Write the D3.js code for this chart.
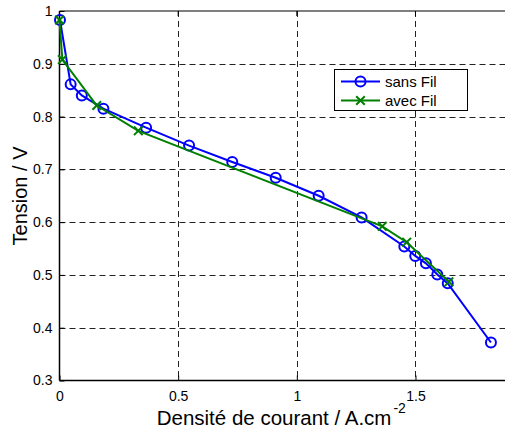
<!DOCTYPE html>
<html><head><meta charset="utf-8">
<script src="https://cdn.jsdelivr.net/npm/d3@7"></script>
<style>body{margin:0;background:#fff;overflow:hidden}svg{display:block;font-family:"Liberation Sans",Arial,sans-serif}</style>
</head><body>
<script>
const xTicks = [0, 0.5, 1, 1.5];
const xTickLabels = ["0", "0.5", "1", "1.5"];
const yTicks = [0.3, 0.4, 0.5, 0.6, 0.7, 0.8, 0.9, 1];
const yTickLabels = ["0.3", "0.4", "0.5", "0.6", "0.7", "0.8", "0.9", "1"];
const seriesNames = ["sans Fil", "avec Fil"];
const sansFilX = [0.002, 0.047, 0.094, 0.185, 0.365, 0.546, 0.728, 0.911, 1.092, 1.273, 1.453, 1.499, 1.544, 1.592, 1.636, 1.818];
const sansFilY = [0.983, 0.861, 0.840, 0.815, 0.779, 0.745, 0.714, 0.684, 0.650, 0.609, 0.554, 0.536, 0.522, 0.501, 0.484, 0.372];
const avecFilX = [0, 0.012, 0.157, 0.332, 1.360, 1.463, 1.641];
const avecFilY = [0.983, 0.908, 0.821, 0.773, 0.592, 0.562, 0.487];
const xLabel = "Densité de courant / A.cm";
const xLabelSup = "-2";
const yLabel = "Tension / V";

const W = 505, H = 431;
const L = 59.5, T = 11, B = 380.5, R = 510.4;
const svg = d3.select("body").append("svg").attr("width", W).attr("height", H);
const x = d3.scaleLinear().domain([0, 1.9]).range([L, R]);
const y = d3.scaleLinear().domain([0.3, 1]).range([B, T]);

// grid
const g = svg.append("g");
g.selectAll(".gx").data(xTicks.filter(d => d > 0)).enter().append("line")
  .attr("x1", d => Math.round(x(d)) + 0.5).attr("x2", d => Math.round(x(d)) + 0.5)
  .attr("y1", T).attr("y2", B)
  .attr("stroke", "#222").attr("stroke-width", 1).attr("stroke-dasharray", "6,4");
g.selectAll(".gy").data(yTicks.filter(d => d > 0.3 && d < 1)).enter().append("line")
  .attr("y1", d => Math.round(y(d)) + 0.5).attr("y2", d => Math.round(y(d)) + 0.5)
  .attr("x1", L).attr("x2", W)
  .attr("stroke", "#222").attr("stroke-width", 1).attr("stroke-dasharray", "6,4");

// axes lines
svg.append("line").attr("x1", L).attr("x2", L).attr("y1", T).attr("y2", B).attr("stroke", "#000").attr("stroke-width", 1.5);
svg.append("line").attr("x1", L).attr("x2", W).attr("y1", B).attr("y2", B).attr("stroke", "#000").attr("stroke-width", 1.5);
svg.append("line").attr("x1", L).attr("x2", W).attr("y1", T).attr("y2", T).attr("stroke", "#000").attr("stroke-width", 1.2);

// ticks (inside)
const xAxis = d3.axisBottom(x).tickValues(xTicks).tickSize(-5).tickPadding(11).tickFormat((d, i) => xTickLabels[i]);
const xa = svg.append("g").attr("transform", `translate(0,${B})`).call(xAxis);
const yAxis = d3.axisLeft(y).tickValues(yTicks).tickSize(-5).tickPadding(7).tickFormat((d, i) => yTickLabels[i]);
const ya = svg.append("g").attr("transform", `translate(${L},0)`).call(yAxis);
[xa, ya].forEach(a => {
  a.select(".domain").remove();
  a.selectAll("text").attr("font-size", 14).attr("fill", "#000").attr("font-family", '"Liberation Sans",Arial,sans-serif');
  a.selectAll("line").attr("stroke", "#000");
});
// top ticks
svg.selectAll(".tt").data(xTicks).enter().append("line")
  .attr("x1", d => x(d)).attr("x2", d => x(d)).attr("y1", T).attr("y2", T + 5).attr("stroke", "#000");

// series
const line = d3.line().x(d => x(d[0])).y(d => y(d[1]));
const sans = sansFilX.map((v, i) => [v, sansFilY[i]]);
const avec = avecFilX.map((v, i) => [v, avecFilY[i]]);
const blue = "#0000ff", green = "#008000";

svg.append("path").datum(sans).attr("d", line).attr("fill", "none").attr("stroke", blue).attr("stroke-width", 2);
svg.selectAll(".cs").data(sans).enter().append("circle")
  .attr("cx", d => x(d[0])).attr("cy", d => y(d[1])).attr("r", 5)
  .attr("fill", "none").attr("stroke", blue).attr("stroke-width", 2);

svg.append("path").datum(avec).attr("d", line).attr("fill", "none").attr("stroke", green).attr("stroke-width", 2);
const cross = d3.symbol().type(d3.symbolX).size(50);
svg.selectAll(".ca").data(avec).enter().append("path")
  .attr("transform", d => `translate(${x(d[0])},${y(d[1])})`).attr("d", cross)
  .attr("fill", "none").attr("stroke", green).attr("stroke-width", 2);

// legend
const lg = svg.append("g");
lg.append("rect").attr("x", 334.5).attr("y", 69.5).attr("width", 133).attr("height", 41)
  .attr("fill", "#fff").attr("stroke", "#000").attr("stroke-width", 1);
const legY = [81.5, 100.5];
const legC = [blue, green];
seriesNames.forEach((n, i) => {
  lg.append("line").attr("x1", 341).attr("x2", 380).attr("y1", legY[i]).attr("y2", legY[i]).attr("stroke", legC[i]).attr("stroke-width", 2);
  if (i === 0) lg.append("circle").attr("cx", 360.5).attr("cy", legY[i]).attr("r", 5).attr("fill", "none").attr("stroke", blue).attr("stroke-width", 2);
  else lg.append("path").attr("transform", `translate(360.5,${legY[i]})`).attr("d", cross).attr("fill", "none").attr("stroke", green).attr("stroke-width", 2);
  lg.append("text").attr("x", 385).attr("y", legY[i] + 5.5).attr("font-size", 15).attr("fill", "#000").text(n);
});

// axis labels
const xl = svg.append("text").attr("x", 156.7).attr("y", 425).attr("font-size", 20.5).attr("fill", "#000").text(xLabel);
xl.append("tspan").attr("font-size", 14).attr("dy", -12).attr("dx", 2).text(xLabelSup);
svg.append("text").attr("transform", "translate(27,196) rotate(-90)").attr("text-anchor", "middle")
  .attr("font-size", 20).attr("fill", "#000").text(yLabel);
</script>
</body></html>
